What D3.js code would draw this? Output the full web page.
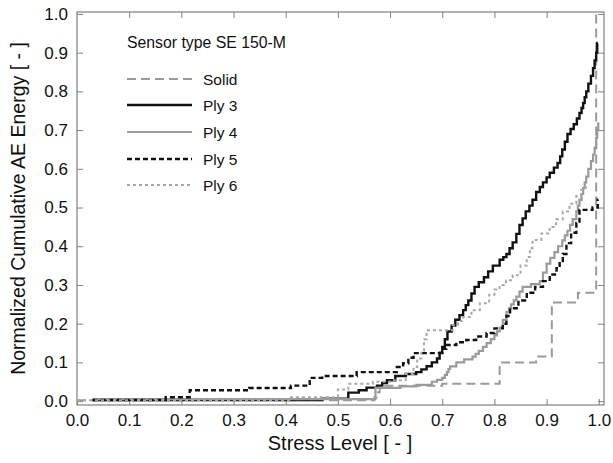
<!DOCTYPE html>
<html>
<head>
<meta charset="utf-8">
<script src="https://cdn.jsdelivr.net/npm/d3@7"></script>
<style>
  body { margin: 0; background: #fff; }
  text { font-family: "Liberation Sans", Arial, sans-serif; }
</style>
</head>
<body>
<svg id="chart" width="613" height="463"></svg>
<script>
// data: [stress level, normalized cumulative energy]
var solid = [[0.0,0.002],[0.57,0.01],[0.574,0.023],[0.58,0.04],[0.7,0.045],[0.81,0.05],[0.81,0.1],
  [0.88,0.115],[0.91,0.125],[0.91,0.255],[0.96,0.28],[0.995,0.29],[0.995,1.0]];
var ply3 = [[0.03,0.003],[0.47,0.006],[0.52,0.022],[0.54,0.028],[0.555,0.035],[0.575,0.04],[0.585,0.047],
  [0.594,0.054],[0.61,0.065],[0.63,0.07],[0.65,0.075],[0.66,0.082],[0.67,0.09],[0.68,0.1],[0.69,0.11],
  [0.695,0.125],[0.70,0.14],[0.705,0.16],[0.71,0.18],[0.718,0.195],[0.725,0.21],[0.733,0.222],[0.74,0.235],
  [0.745,0.248],[0.75,0.26],[0.756,0.278],[0.762,0.295],[0.77,0.307],[0.78,0.32],[0.788,0.335],[0.797,0.35],
  [0.81,0.365],[0.817,0.372],[0.823,0.38],[0.829,0.395],[0.835,0.41],[0.842,0.432],[0.848,0.455],
  [0.854,0.472],[0.86,0.49],[0.867,0.505],[0.873,0.52],[0.88,0.54],[0.887,0.553],[0.893,0.565],[0.9,0.578],
  [0.906,0.59],[0.914,0.603],[0.921,0.615],[0.926,0.632],[0.93,0.65],[0.935,0.67],[0.94,0.69],[0.946,0.703],
  [0.952,0.715],[0.958,0.73],[0.963,0.744],[0.967,0.757],[0.97,0.77],[0.973,0.785],[0.976,0.80],[0.98,0.82],
  [0.985,0.84],[0.989,0.86],[0.992,0.88],[0.995,0.9],[0.997,0.925],[0.998,0.925]];
var ply4 = [[0.03,0.005],[0.572,0.034],[0.62,0.038],[0.65,0.042],[0.68,0.05],[0.69,0.055],[0.70,0.06],
  [0.705,0.068],[0.709,0.075],[0.712,0.083],[0.715,0.09],[0.727,0.10],[0.742,0.108],[0.758,0.115],
  [0.764,0.122],[0.77,0.13],[0.778,0.14],[0.785,0.15],[0.793,0.16],[0.80,0.17],[0.805,0.18],[0.81,0.19],
  [0.816,0.21],[0.823,0.23],[0.828,0.24],[0.832,0.25],[0.837,0.26],[0.842,0.27],[0.848,0.283],[0.854,0.295],
  [0.87,0.302],[0.887,0.31],[0.893,0.332],[0.9,0.355],[0.907,0.37],[0.915,0.385],[0.922,0.4],[0.93,0.415],
  [0.935,0.428],[0.94,0.44],[0.945,0.455],[0.95,0.47],[0.957,0.49],[0.96,0.505],[0.963,0.52],[0.967,0.535],
  [0.97,0.55],[0.973,0.565],[0.976,0.58],[0.98,0.6],[0.985,0.62],[0.989,0.637],[0.992,0.655],[0.995,0.68],
  [0.997,0.70],[0.999,0.72]];
var ply5 = [[0.03,0.003],[0.17,0.01],[0.216,0.028],[0.33,0.034],[0.41,0.04],[0.446,0.06],[0.47,0.065],
  [0.536,0.075],[0.613,0.088],[0.625,0.098],[0.635,0.112],[0.645,0.124],[0.70,0.135],[0.708,0.145],
  [0.727,0.152],[0.746,0.158],[0.765,0.167],[0.785,0.176],[0.8,0.188],[0.816,0.2],[0.823,0.22],[0.83,0.24],
  [0.846,0.26],[0.862,0.28],[0.878,0.295],[0.893,0.31],[0.906,0.327],[0.919,0.343],[0.925,0.362],
  [0.931,0.38],[0.938,0.408],[0.947,0.435],[0.957,0.46],[0.963,0.494],[0.988,0.50],[0.998,0.52],[0.999,0.52]];
var ply6 = [[0.0,0.002],[0.41,0.01],[0.5,0.03],[0.52,0.045],[0.567,0.05],[0.6,0.054],[0.63,0.07],
  [0.645,0.088],[0.652,0.11],[0.66,0.13],[0.665,0.16],[0.67,0.183],[0.72,0.196],[0.73,0.207],[0.74,0.217],
  [0.756,0.235],[0.772,0.253],[0.79,0.275],[0.8,0.288],[0.81,0.3],[0.822,0.312],[0.835,0.325],[0.85,0.35],
  [0.862,0.372],[0.868,0.395],[0.873,0.416],[0.89,0.433],[0.906,0.45],[0.918,0.47],[0.931,0.49],
  [0.944,0.51],[0.957,0.53],[0.966,0.545],[0.975,0.56]];

var seriesNames = ["Solid", "Ply 3", "Ply 4", "Ply 5", "Ply 6"];
var seriesData = [solid, ply3, ply4, ply5, ply6];
var ticks = [0, 0.1, 0.2, 0.3, 0.4, 0.5, 0.6, 0.7, 0.8, 0.9, 1.0];

var styles = [
  {color: "#9a9a9a", width: 2, dash: "9,5"},
  {color: "#111", width: 2.4, dash: null},
  {color: "#9a9a9a", width: 2.2, dash: null},
  {color: "#111", width: 2.4, dash: "5,3"},
  {color: "#a8a8a8", width: 2, dash: "3,3"}
];

var svg = d3.select('#chart');
var pLeft = 77, pRight = 604, pTop = 12, pBottom = 405;

var x = d3.scaleLinear().domain([0, 1.01]).range([pLeft, pRight]);
var y = d3.scaleLinear().domain([-0.01, 1.005]).range([pBottom, pTop]);

// frame
svg.append('rect')
   .attr('x', pLeft).attr('y', pTop)
   .attr('width', pRight - pLeft).attr('height', pBottom - pTop)
   .attr('fill', 'none').attr('stroke', '#808080').attr('stroke-width', 1.2);

// axes, ticks pointing in
function styleAxis(g) {
  g.select('.domain').remove();
  g.selectAll('.tick line').attr('stroke', '#808080').attr('stroke-width', 1);
  g.selectAll('.tick text').attr('fill', '#111').style('font-size', '17px')
   .style('font-family', '"Liberation Sans", Arial, sans-serif');
}
svg.append('g').attr('transform', 'translate(0,' + pBottom + ')')
   .call(d3.axisBottom(x).tickValues(ticks).tickFormat(d3.format('.1f')).tickSizeInner(-6).tickPadding(9))
   .call(styleAxis);
svg.append('g').attr('transform', 'translate(0,' + pTop + ')')
   .call(d3.axisTop(x).tickValues(ticks.slice(1, 10)).tickFormat('').tickSizeInner(-6))
   .call(styleAxis);
svg.append('g').attr('transform', 'translate(' + pLeft + ',0)')
   .call(d3.axisLeft(y).tickValues(ticks).tickFormat(d3.format('.1f')).tickSizeInner(-6).tickPadding(9))
   .call(styleAxis);
svg.append('g').attr('transform', 'translate(' + pRight + ',0)')
   .call(d3.axisRight(y).tickValues(ticks).tickFormat('').tickSizeInner(-6))
   .call(styleAxis);

// curves
var line = d3.line()
  .x(function(d) { return x(d[0]); })
  .y(function(d) { return y(d[1]); })
  .curve(d3.curveStepAfter);

svg.selectAll('path.curve')
   .data(seriesData)
   .enter()
   .append('path')
   .attr('class', 'curve')
   .attr('d', line)
   .attr('fill', 'none')
   .attr('stroke', function(d, i) { return styles[i].color; })
   .attr('stroke-width', function(d, i) { return styles[i].width; })
   .attr('stroke-dasharray', function(d, i) { return styles[i].dash; });

// legend
svg.append('text').attr('x', 127).attr('y', 48).style('font-size', '15.8px').attr('fill', '#111')
   .text('Sensor type SE 150-M');
var rowY = [79, 105, 132, 159, 185];
var lg = svg.selectAll('g.leg').data(seriesNames).enter().append('g').attr('class', 'leg');
lg.append('line')
  .attr('x1', 127).attr('x2', 192)
  .attr('y1', function(d, i) { return rowY[i]; })
  .attr('y2', function(d, i) { return rowY[i]; })
  .attr('stroke', function(d, i) { return styles[i].color; })
  .attr('stroke-width', function(d, i) { return styles[i].width; })
  .attr('stroke-dasharray', function(d, i) { return styles[i].dash; });
lg.append('text')
  .attr('x', 203)
  .attr('y', function(d, i) { return rowY[i] + 5.5; })
  .style('font-size', '15.5px').attr('fill', '#111')
  .text(function(d) { return d; });

// axis titles
svg.append('text').attr('x', 340).attr('y', 450)
   .attr('text-anchor', 'middle').style('font-size', '20px').attr('fill', '#111')
   .text('Stress Level [ - ]');
svg.append('text').attr('transform', 'translate(25,' + ((pTop + pBottom) / 2) + ') rotate(-90)')
   .attr('text-anchor', 'middle').style('font-size', '19.5px').attr('fill', '#111')
   .text('Normalized Cumulative AE Energy [ - ]');
</script>
</body>
</html>
